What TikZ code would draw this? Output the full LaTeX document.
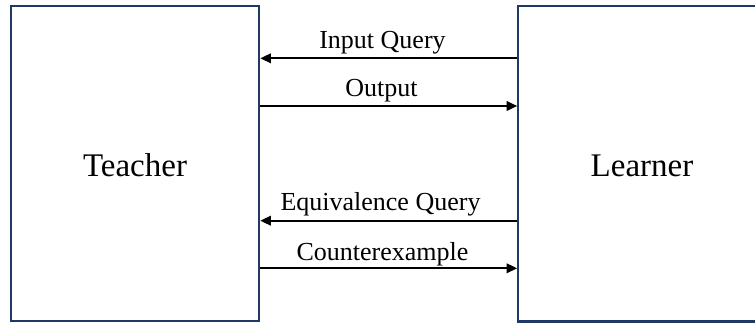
\documentclass[tikz,border=0pt]{standalone}
\usepackage{fontspec}
\setmainfont{Liberation Serif}
\usetikzlibrary{arrows.meta}
\definecolor{boxnavy}{RGB}{31,56,100}
\tikzset{
  party/.style={draw=boxnavy, line width=2.2pt, inner sep=0pt,
    minimum width=248pt, minimum height=315.5pt,
    font=\fontsize{33}{38}\selectfont},
  msg/.style={anchor=base, inner sep=0pt, font=\fontsize{26}{30}\selectfont},
  flow/.style={draw=black, line width=1.8pt,
    -{Triangle[length=10.5pt, width=9.5pt]}, shorten >=0pt}
}
\begin{document}
\begin{tikzpicture}[x=1pt, y=-1pt]
  \clip (0,0) rectangle (755,323);
  \useasboundingbox (0,0) rectangle (755,323);

  % the two parties
  \node[party] (teacher) at (135.2,163.5) {};
  \node[party] (learner) at (642.3,163.7) {};
  \node[font=\fontsize{33}{38}\selectfont, anchor=base] (tlabel) at (135,177) {Teacher};
  \node[font=\fontsize{33}{38}\selectfont, anchor=base] (llabel) at (642,177) {Learner};

  % message labels
  \node[msg] (iq) at (382.5,48.5) {Input Query};
  \node[msg] (out) at (381.5,97) {Output};
  \node[msg] (eq) at (380.5,211) {Equivalence Query};
  \node[msg] (cex) at (382.5,260) {Counterexample};

  % messages between the parties
  \draw[flow] (learner.west |- 0,58.3) -- (teacher.east |- 0,58.3);
  \draw[flow] (teacher.east |- 0,106) -- (learner.west |- 0,106);
  \draw[flow] (learner.west |- 0,220.7) -- (teacher.east |- 0,220.7);
  \draw[flow] (teacher.east |- 0,268.3) -- (learner.west |- 0,268.3);
\end{tikzpicture}
\end{document}
